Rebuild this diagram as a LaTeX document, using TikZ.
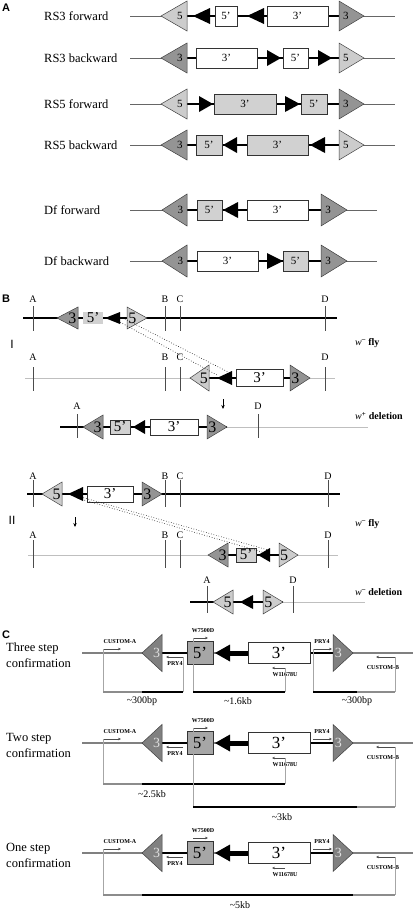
\documentclass[tikz,border=0pt]{standalone}
\usepackage{fontspec}
\setmainfont{Liberation Serif}
\setsansfont{Liberation Sans}
\usetikzlibrary{arrows.meta}
\definecolor{lighttri}{gray}{0.80}
\definecolor{darktri}{gray}{0.58}
\definecolor{graybox}{gray}{0.82}
\definecolor{ctri}{gray}{0.50}
\definecolor{cbox}{gray}{0.65}

\newcommand{\tri}[6]{%
  \filldraw[tri,fill=#5] (#1,#3) -- (#2,{#3-#4}) -- (#2,{#3+#4}) -- cycle;
  \node[trinum] at ({#2+0.27*(#1-#2)},#3) {#6};}
\newcommand{\head}[4]{%
  \fill (#1,#3) -- (#2,{#3-#4}) -- (#2,{#3+#4}) -- cycle;}
\newcommand{\dnabox}[6]{%
  \filldraw[boxline,fill=#5] (#1,{#3-#4}) rectangle (#2,{#3+#4});
  \node[boxnum] at ({(#1+#2)/2},#3) {#6};}

\begin{document}
\begin{tikzpicture}
  [x=1pt,y=-1pt,
   tri/.style={draw=black!75,line width=0.5pt},
   boxline/.style={draw=black!80,line width=0.6pt},
   trinum/.style={font=\fontsize{11}{11}\selectfont,inner sep=0pt},
   boxnum/.style={font=\fontsize{11}{11}\selectfont,inner sep=0pt},
   rowlabel/.style={anchor=west,font=\fontsize{12.5}{14}\selectfont,inner sep=0pt},
   steplabel/.style={anchor=west,align=left,font=\fontsize{12.5}{16}\selectfont,inner sep=0pt},
   panel/.style={font=\sffamily\bfseries\fontsize{11}{11}\selectfont,inner sep=0pt},
   site/.style={font=\fontsize{10}{10}\selectfont,inner sep=0pt},
   flylabel/.style={anchor=west,font=\bfseries\fontsize{10}{10}\selectfont,inner sep=0pt},
   plabel/.style={font=\bfseries\fontsize{6}{6}\selectfont,inner sep=0pt},
   size/.style={font=\fontsize{10}{10}\selectfont,inner sep=0pt},
   thin dna/.style={black!60,line width=0.7pt},
   thick dna/.style={black,line width=2.4pt},
   chrom/.style={black,line width=1.8pt},
   faint/.style={black!25,line width=0.9pt},
   tick/.style={black!70,line width=0.6pt},
   swap/.style={dotted,black,line width=0.6pt},
   down/.style={-{Stealth[length=4pt,width=3.4pt]},line width=0.6pt},
   primer/.style={draw=black!70,line width=0.5pt,-{Stealth[length=3pt,width=2.6pt]}},
   bracket/.style={black!35,line width=0.5pt},
   bar/.style={line width=2.4pt}]
\useasboundingbox (0,0) rectangle (415,911);

\node[panel] (pa) at (6,8) {A};

\node[rowlabel] (rs3f) at (44,16) {RS3 forward};
\draw[thin dna] (130,16) -- (395,16);
\draw[thick dna] (187,16) -- (339,16);
\tri{161}{187}{16}{15}{lighttri}{5}
\head{193}{210}{16}{8}
\dnabox{215}{237}{16}{10}{white}{5’}
\head{247}{264}{16}{8}
\dnabox{267}{328}{16}{10}{white}{3’}
\tri{364}{339}{16}{15}{darktri}{3}

\node[rowlabel] (rs3b) at (44,58) {RS3 backward};
\draw[thin dna] (130,58) -- (395,58);
\draw[thick dna] (187,58) -- (339,58);
\tri{161}{187}{58}{15}{darktri}{3}
\dnabox{196}{257}{58}{10}{white}{3’}
\head{281}{267}{58}{8}
\dnabox{283}{308}{58}{10}{white}{5’}
\head{332}{318}{58}{8}
\tri{364}{339}{58}{15}{lighttri}{5}

\node[rowlabel] (rs5f) at (44,104) {RS5 forward};
\draw[thin dna] (130,104) -- (395,104);
\draw[thick dna] (187,104) -- (339,104);
\tri{161}{187}{104}{15}{lighttri}{5}
\head{213}{199}{104}{8}
\dnabox{214}{276}{104}{10}{graybox}{3’}
\head{300}{285}{104}{8}
\dnabox{301}{327}{104}{10}{graybox}{5’}
\tri{364}{339}{104}{15}{darktri}{3}

\node[rowlabel] (rs5b) at (44,145) {RS5 backward};
\draw[thin dna] (130,145) -- (395,145);
\draw[thick dna] (187,145) -- (339,145);
\tri{161}{187}{145}{15}{darktri}{3}
\dnabox{196}{222}{145}{10}{graybox}{5’}
\head{223}{237}{145}{8}
\dnabox{247}{308}{145}{10}{graybox}{3’}
\head{310}{325}{145}{8}
\tri{364}{339}{145}{15}{lighttri}{5}

\node[rowlabel] (dff) at (44,210) {Df forward};
\draw[thin dna] (130,210) -- (377,210);
\draw[thick dna] (187,210) -- (321,210);
\tri{162}{187}{210}{16}{darktri}{3}
\dnabox{197}{222}{210}{10}{graybox}{5’}
\head{223}{238}{210}{8}
\dnabox{247}{308}{210}{10}{white}{3’}
\tri{347}{321}{210}{16}{darktri}{3}

\node[rowlabel] (dfb) at (44,261) {Df backward};
\draw[thin dna] (130,261) -- (377,261);
\draw[thick dna] (187,261) -- (321,261);
\tri{162}{187}{261}{16}{darktri}{3}
\dnabox{197}{258}{261}{10}{white}{3’}
\head{283}{267}{261}{8}
\dnabox{283}{308}{261}{10}{graybox}{5’}
\tri{347}{321}{261}{16}{darktri}{3}

\begin{scope}[trinum/.style={font=\fontsize{16}{16}\selectfont,inner sep=0pt},
              boxnum/.style={font=\fontsize{15}{15}\selectfont,inner sep=0pt}]
\node[panel] (pb) at (6,299) {B};

% I
\draw[chrom] (23,318) -- (337,318);
\foreach \x/\l in {33/A,165/B,180/C,325/D}{
  \node[site] at (\x,299) {\l};
  \draw[tick] (\x,306) -- (\x,331);}
\tri{57}{78}{318}{11}{darktri}{3}
\fill[graybox] (83,312) rectangle (103,324);
\node[boxnum] at (93,318) {5’};
\head{105}{120}{318}{6}
\tri{147}{127}{318}{11}{lighttri}{5}

\node[font=\sffamily\fontsize{12}{12}\selectfont,inner sep=0pt] (one) at (12,344) {I};
\node[flylabel] (fly1) at (355,343) {{\mdseries\itshape w}\textsuperscript{–} fly};

\draw[faint] (25,378) -- (335,378);
\foreach \x/\l in {33/A,165/B,180/C,325/D}{
  \node[site] at (\x,357) {\l};
  \draw[tick] (\x,367) -- (\x,391);}
\draw[thick dna] (209,378) -- (290,378);
\tri{190}{209}{378}{13}{lighttri}{5}
\head{217}{232}{378}{7}
\dnabox{236}{283}{378}{8.5}{white}{3’}
\tri{310}{290}{378}{13}{darktri}{3}

\coordinate (s1a) at (118,321);
\coordinate (s1b) at (125,319);
\coordinate (t1a) at (217,375);
\coordinate (t1b) at (230,373);
\draw[swap] (s1a) -- (t1a);
\draw[swap] (s1b) -- (t1b);
\draw[down] (223,399) -- (223,409);

\draw[chrom] (60,427) -- (227,427);
\draw[faint] (227,427) -- (368,427);
\foreach \x/\l in {77/A,258/D}{
  \node[site] at (\x,406) {\l};
  \draw[tick] (\x,414) -- (\x,438);}
\tri{83}{103}{427}{12}{darktri}{3}
\dnabox{110}{130}{427}{7}{graybox}{5’}
\head{133}{145}{427}{7}
\dnabox{150}{198}{427}{8}{white}{3’}
\tri{227}{207}{427}{12}{darktri}{3}
\node[flylabel] (del1) at (355,416) {{\mdseries\itshape w}\textsuperscript{+} deletion};

% II
\draw[chrom] (27,494) -- (340,494);
\foreach \x/\l in {33/A,165/B,180/C,328/D}{
  \node[site] at (\x,476) {\l};
  \draw[tick] (\x,480) -- (\x,507);}
\tri{42}{62}{494}{12}{lighttri}{5}
\head{68}{83}{494}{7}
\dnabox{87}{133}{494}{8}{white}{3’}
\tri{162}{142}{494}{12}{darktri}{3}

\node[font=\sffamily\fontsize{12}{12}\selectfont,inner sep=0pt] (two) at (12,520) {II};
\draw[down] (75,517) -- (75,527);
\node[flylabel] (fly2) at (355,524) {{\mdseries\itshape w}\textsuperscript{–} fly};

\draw[faint] (28,555) -- (338,555);
\foreach \x/\l in {33/A,165/B,180/C,328/D}{
  \node[site] at (\x,535) {\l};
  \draw[tick] (\x,540) -- (\x,568);}
\draw[thick dna] (228,555) -- (279,555);
\tri{208}{228}{555}{12}{darktri}{3}
\dnabox{236}{256}{555}{7}{graybox}{5’}
\head{258}{270}{555}{7}
\tri{298}{279}{555}{12}{lighttri}{5}

\coordinate (s2a) at (77,498);
\coordinate (s2b) at (81,497);
\coordinate (t2a) at (262,552);
\coordinate (t2b) at (268,550);
\draw[swap] (s2a) -- (t2a);
\draw[swap] (s2b) -- (t2b);

\draw[chrom] (190,602) -- (283,602);
\draw[faint] (283,602) -- (365,602);
\foreach \x/\l in {207/A,293/D}{
  \node[site] at (\x,580) {\l};
  \draw[tick] (\x,586) -- (\x,613);}
\tri{213}{233}{602}{12}{lighttri}{5}
\head{240}{253}{602}{7}
\tri{283}{263}{602}{12}{lighttri}{5}
\node[flylabel] (del2) at (355,592) {{\mdseries\itshape w}\textsuperscript{–} deletion};
\end{scope}

\begin{scope}[trinum/.style={font=\fontsize{14}{14}\selectfont,text=black!12,inner sep=0pt},
              boxnum/.style={font=\fontsize{17}{17}\selectfont,inner sep=0pt}]
\node[panel] (pc) at (6,635) {C};

\foreach \Y/\txt in {653/Three step,743/Two step,853/One step}{
  \node[steplabel] at (6,\Y+2) {\txt\\confirmation};
  \draw[black!50,line width=1.6pt] (82,\Y) -- (413,\Y);
  \draw[thick dna] (162,\Y) -- (187,\Y);
  \draw[thick dna] (310,\Y) -- (333,\Y);
  \tri{142}{162}{\Y}{18.5}{ctri}{3}
  \dnabox{187}{213}{\Y}{11.5}{cbox}{5’}
  \head{215}{230}{\Y}{8.5}
  \draw[line width=5pt] (229,\Y) -- (248,\Y);
  \dnabox{248}{310}{\Y}{10.5}{white}{3’}
  \tri{353}{333}{\Y}{18.5}{ctri}{3}
  \coordinate (cA-\Y) at (103,\Y-4);
  \coordinate (pL-\Y) at (183,\Y+4);
  \coordinate (wD-\Y) at (193,\Y-15);
  \coordinate (wU-\Y) at (285,\Y+15);
  \coordinate (pR-\Y) at (313,\Y-4);
  \coordinate (cB-\Y) at (395,\Y+4);
  \draw[primer] (cA-\Y) -- ++(18,0);
  \node[plabel] at (120,\Y-11) {CUSTOM-A};
  \draw[primer] (pL-\Y) -- ++(-17,0);
  \node[plabel] at (175,\Y+11) {PRY4};
  \draw[primer] (wD-\Y) -- ++(15,0);
  \node[plabel] at (203,\Y-22) {W7500D};
  \draw[primer] (wU-\Y) -- ++(-13,0);
  \node[plabel] at (285,\Y+22) {W11678U};
  \draw[primer] (pR-\Y) -- ++(19,0);
  \node[plabel] at (322,\Y-11) {PRY4};
  \draw[primer] (cB-\Y) -- ++(-19,0);
  \node[plabel] at (383,\Y+15) {CUSTOM-B};
}

\draw[bracket] (cA-653) -- (103,692);
\draw[bracket] (pL-653) -- (183,692);
\draw[bar,black!45] (103,692) -- (142,692);
\draw[bar] (142,692) -- (183,692);
\node[size] at (142,701) {\textasciitilde300bp};
\draw[bracket] (wD-653) -- (193,692);
\draw[bracket] (wU-653) -- (285,692);
\draw[bar] (193,692) -- (285,692);
\node[size] at (238,701) {\textasciitilde1.6kb};
\draw[bracket] (pR-653) -- (313,692);
\draw[bracket] (cB-653) -- (395,692);
\draw[bar] (313,692) -- (357,692);
\draw[bar,black!45] (357,692) -- (395,692);
\node[size] at (357,701) {\textasciitilde300bp};

\draw[bracket] (cA-743) -- (103,784);
\draw[bracket] (wU-743) -- (285,784);
\draw[bar,black!45] (103,784) -- (142,784);
\draw[bar] (142,784) -- (285,784);
\node[size] at (152,794) {\textasciitilde2.5kb};
\draw[bracket] (wD-743) -- (193,807);
\draw[bracket] (cB-743) -- (395,807);
\draw[bar] (193,807) -- (357,807);
\draw[bar,black!45] (357,807) -- (395,807);
\node[size] at (282,817) {\textasciitilde3kb};

\draw[bracket] (cA-853) -- (103,895);
\draw[bracket] (cB-853) -- (395,895);
\draw[bar,black!45] (103,895) -- (142,895);
\draw[bar] (142,895) -- (353,895);
\draw[bar,black!45] (353,895) -- (395,895);
\node[size] at (240,905) {\textasciitilde5kb};
\end{scope}
\end{tikzpicture}
\end{document}
